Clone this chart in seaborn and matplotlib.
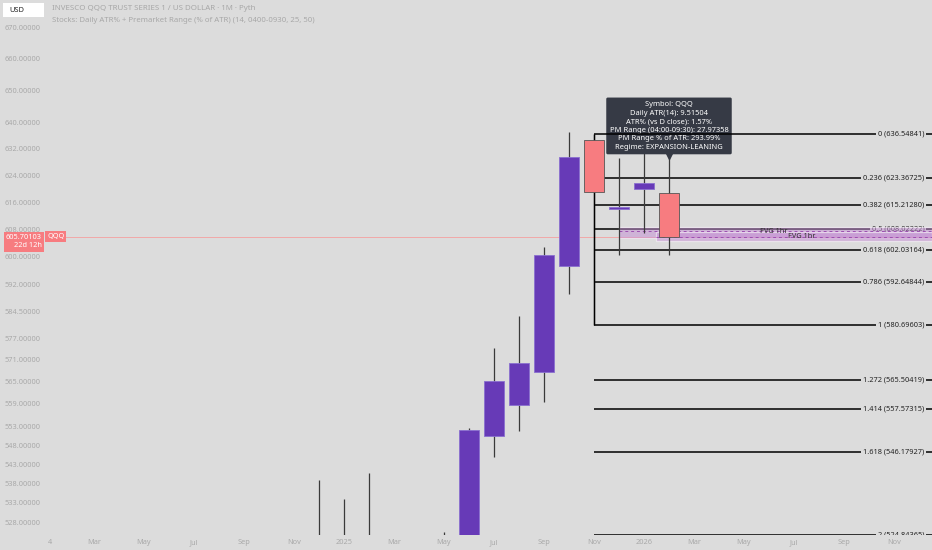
import matplotlib
matplotlib.use("Agg")
import numpy as np
import pandas as pd
import seaborn as sns
import matplotlib.pyplot as plt
import matplotlib.transforms as mtransforms
from matplotlib.patches import Rectangle
from matplotlib.ticker import FixedLocator, NullLocator

# monthly candles, x = months since Jan 2024
months = [11, 12, 13, 14, 15, 16, 17, 18, 19, 20, 21, 22, 23, 24, 25]
opens = [509.0, 513.0, 521.0, 510.0, 468.0, 475.0, 521.0, 550.3, 558.7, 567.7, 597.4, 634.8, 613.9, 620.0, 618.6]
highs = [539.0, 533.9, 540.8, 514.0, 491.0, 525.6, 552.6, 574.3, 583.2, 602.9, 637.1, 636.54841, 629.3, 633.0, 629.3]
lows = [505.0, 500.0, 500.0, 462.0, 402.0, 455.0, 508.0, 545.0, 551.8, 559.5, 589.4, 580.69603, 600.6, 606.9, 600.6]
closes = [511.0, 522.0, 508.0, 468.0, 475.0, 519.0, 551.9, 565.2, 570.2, 600.6, 629.5, 619.1, 614.6, 621.7, 605.70103]

fib_ratios = ["0", "0.236", "0.382", "0.5", "0.618", "0.786", "1", "1.272", "1.414", "1.618", "2"]
fib_prices = [636.54841, 623.36725, 615.21280, 608.02222, 602.03164, 592.64844,
              580.69603, 565.50419, 557.57315, 546.17927, 524.84365]

y_ticks = [670, 660, 650, 640, 632, 624, 616, 608, 600, 592, 584.5, 577, 571,
           565, 559, 553, 548, 543, 538, 533, 528]
x_tick_pos = [0.25, 2, 4, 6, 8, 10, 12, 14, 16, 18, 20, 22, 24, 26, 28, 30, 32, 34]
x_tick_labels = ["4", "Mar", "May", "Jul", "Sep", "Nov", "2025", "Mar", "May", "Jul",
                 "Sep", "Nov", "2026", "Mar", "May", "Jul", "Sep", "Nov"]

# FVG boxes: start month, low, high, dashed mid
fvg_start = [23.0, 24.5]
fvg_low = [605.4, 604.7]
fvg_high = [608.6, 607.1]
fvg_mid = [607.5, 605.9]
fvg_label_x = [29.2, 30.3]
fvg_label_y = [607.3, 605.8]

last_price = 605.70103
tooltip_lines = [
    "Symbol: QQQ",
    "Daily ATR(14): 9.51504",
    "ATR% (vs D close): 1.57%",
    "PM Range (04:00-09:30): 27.97358",
    "PM Range % of ATR: 293.99%",
    "Regime: EXPANSION-LEANING",
]

df = pd.DataFrame({"m": months, "open": opens, "high": highs, "low": lows, "close": closes})
df["up"] = df["close"] >= df["open"]

BG = "#dcdcdc"
UP = "#673ab7"
DOWN = "#f77c80"
AXTXT = "#a9a9a9"

sns.set_theme(style="white", rc={"axes.facecolor": BG, "figure.facecolor": BG})
plt.rcParams["font.family"] = ["Noto Sans", "DejaVu Sans"]

W, H = 932, 550
fig = plt.figure(figsize=(W / 100, H / 100), dpi=100)
ax = fig.add_axes([45 / W, 15 / H, 1 - 45 / W, 1 - 15 / H])
ax.set_yscale("log")
ax.set_ylim(524.8, 679.0)
ax.set_xlim(0.04, 35.52)

# wicks and bodies (drawn above fib lines and FVG zones)
ax.vlines(df["m"], df["low"], df["high"], color="#3a3a3a", lw=0.9, zorder=9)
body_lo = df[["open", "close"]].min(axis=1)
body_hi = df[["open", "close"]].max(axis=1)
for up, col, ec in [(True, UP, "#8a6fd0"), (False, DOWN, "#555555")]:
    sel = df["up"] == up
    ax.bar(df["m"][sel], (body_hi - body_lo)[sel], bottom=body_lo[sel], width=0.78,
           color=col, edgecolor=ec, linewidth=0.6, zorder=9.5)

# current price line
ax.axhline(last_price, color="#f4a0a0", lw=0.6, zorder=2)

# fib levels
fib_x0 = 22
ax.vlines(fib_x0, fib_prices[6], fib_prices[0], color="black", lw=1.0, zorder=9.2)
for i, (r, p) in enumerate(zip(fib_ratios, fib_prices)):
    z = 11 if i == 0 else 6
    ax.hlines(p, fib_x0, 35.52, color="black", lw=1.1, zorder=z)
    ax.text(35.22, p, f"{r} ({p:.5f})", ha="right", va="center", fontsize=5.3,
            color="#222222", zorder=z + 0.5, clip_on=True,
            bbox=dict(boxstyle="square,pad=0.25", fc=BG, ec="none"))

# FVG zones
for xs, lo, hi, mid, lx, ly in zip(fvg_start, fvg_low, fvg_high, fvg_mid, fvg_label_x, fvg_label_y):
    ax.add_patch(Rectangle((xs, lo), 35.52 - xs, hi - lo, facecolor="#c48bd4", alpha=0.5,
                           edgecolor="white", lw=0.9, zorder=8))
    ax.hlines(mid, xs, 35.52, color="#9c4fb0", lw=0.7, linestyles=(0, (3, 3)), zorder=8.5)
    ax.text(lx, ly, "FVG 1hr", ha="center", va="center", fontsize=5.3, color="#333333", zorder=8.6)

# tooltip
ax.annotate("\n".join(tooltip_lines), xy=(25, 629.3), xytext=(0, 5), textcoords="offset points",
            ha="center", va="bottom", fontsize=5.4, color="white", linespacing=1.32,
            multialignment="center", zorder=10,
            bbox=dict(boxstyle="round,pad=0.45,rounding_size=0.2", fc="#363a45", ec="none"))
ax.plot([25], [630.0], marker="v", ms=4, color="#363a45", zorder=10)

# axes styling
ax.yaxis.set_major_locator(FixedLocator(y_ticks))
ax.yaxis.set_minor_locator(NullLocator())
ax.set_yticklabels([f"{v:.5f}" for v in y_ticks])
ax.set_xticks(x_tick_pos)
ax.set_xticklabels(x_tick_labels)
ax.tick_params(axis="both", labelsize=5.3, labelcolor=AXTXT, length=0, pad=3)
for s in ax.spines.values():
    s.set_visible(False)

# last price label on the scale
ax.annotate("605.70103\n22d 12h", xy=(42 / W, last_price), xycoords=("figure fraction", "data"),
            xytext=(0, 2.2), textcoords="offset points", ha="right", va="top",
            fontsize=5.3, color="white", fontweight="bold", linespacing=1.25,
            multialignment="right", annotation_clip=False,
            bbox=dict(boxstyle="square,pad=0.3", fc=DOWN, ec="none"), zorder=12)
ax.text(0.12, last_price + 0.3, "QQQ", ha="left", va="center", fontsize=5.3, color="white",
        fontweight="bold", bbox=dict(boxstyle="square,pad=0.3", fc=DOWN, ec="none"), zorder=12)

# header
fig.patches.append(Rectangle((3 / W, 1 - 17 / H), 41 / W, 14 / H, transform=fig.transFigure,
                             fc="white", ec="none", zorder=10))
fig.text(9 / W, 1 - 10 / H, "USD", fontsize=5.4, color="#222222", va="center", zorder=11)
fig.text(52 / W, 1 - 9 / H, "INVESCO QQQ TRUST SERIES 1 / US DOLLAR · 1M · Pyth",
         fontsize=5.7, color="#a8a8a8", va="center")
fig.text(52 / W, 1 - 20 / H, "Stocks: Daily ATR% + Premarket Range (% of ATR) (14, 0400-0930, 25, 50)",
         fontsize=5.6, color="#a8a8a8", va="center")

fig.savefig("out.png", dpi=100, facecolor=BG)
